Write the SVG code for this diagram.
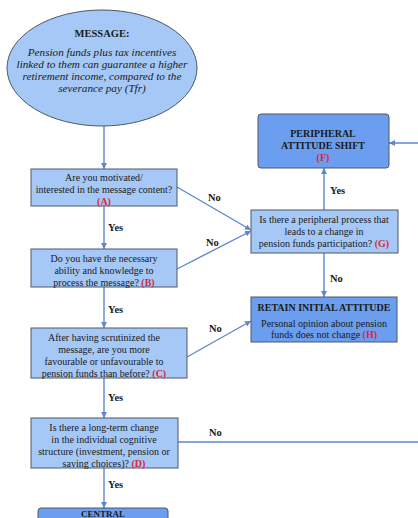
<svg xmlns="http://www.w3.org/2000/svg" width="418" height="518" viewBox="0 0 418 518">
<defs>
<marker id="ah" viewBox="0 0 10 10" refX="10" refY="5" markerWidth="6" markerHeight="6" markerUnits="userSpaceOnUse" orient="auto">
<path d="M0,0 L10,5 L0,10 z" fill="#5f87cf"/>
</marker>
<style>
text{font-family:"Liberation Serif","Times New Roman",serif;fill:#1a1a1a;text-anchor:middle}
.q{fill:#a6c8f6;stroke:#4d5866;stroke-width:1}
.r{fill:#6b9eee;stroke:#4d5866;stroke-width:1}
.t{font-size:10px}
.b{font-weight:bold}
.lbl{font-size:10.5px;font-weight:bold;text-anchor:start}
.red{fill:#d42a3c;font-weight:bold}
.i{font-style:italic;font-size:11.2px}
.c{fill:none;stroke:#5f87cf;stroke-width:1.4}
</style>
</defs>
<rect width="418" height="518" fill="#ffffff"/>
<g id="connectors">
<path class="c" d="M104,126 V169" marker-end="url(#ah)"/>
<path class="c" d="M104,206 V249" marker-end="url(#ah)"/>
<path class="c" d="M104,287 V328" marker-end="url(#ah)"/>
<path class="c" d="M104,378 V418" marker-end="url(#ah)"/>
<path class="c" d="M104,468 V508" marker-end="url(#ah)"/>
<path class="c" d="M177,187 L251,230" marker-end="url(#ah)"/>
<path class="c" d="M177,269 L251,231" marker-end="url(#ah)"/>
<path class="c" d="M187,357 L251,321" marker-end="url(#ah)"/>
<path class="c" d="M324,210 V168" marker-end="url(#ah)"/>
<path class="c" d="M324,253 V297" marker-end="url(#ah)"/>
<path class="c" d="M178,442 H419 V143 H389" marker-end="url(#ah)"/>
<text class="lbl" x="108" y="231">Yes</text>
<text class="lbl" x="108" y="313">Yes</text>
<text class="lbl" x="108" y="401">Yes</text>
<text class="lbl" x="108" y="488">Yes</text>
<text class="lbl" x="208" y="201">No</text>
<text class="lbl" x="206" y="246">No</text>
<text class="lbl" x="209" y="332">No</text>
<text class="lbl" x="209" y="436">No</text>
<text class="lbl" x="330" y="194">Yes</text>
<text class="lbl" x="330" y="282">No</text>
</g>
<g id="message">
<ellipse class="q" cx="102" cy="68" rx="95" ry="58"/>
<text class="b" x="102" y="37" font-size="10.5">MESSAGE:</text>
<text class="i" x="102" y="56">Pension funds plus tax incentives</text>
<text class="i" x="102" y="68">linked to them can guarantee a higher</text>
<text class="i" x="102" y="80">retirement income, compared to the</text>
<text class="i" x="102" y="92">severance pay (Tfr)</text>
</g>
<g id="A">
<rect class="q" x="31" y="169" width="146" height="37"/>
<text class="t" x="104" y="181">Are you motivated/</text>
<text class="t" x="104" y="193">interested in the message content?</text>
<text class="t red" x="104" y="205">(A)</text>
</g>
<g id="B">
<rect class="q" x="31" y="249" width="146" height="38"/>
<text class="t" x="104" y="262">Do you have the necessary</text>
<text class="t" x="104" y="274">ability and knowledge to</text>
<text class="t" x="104" y="286">process the message? <tspan class="red">(B)</tspan></text>
</g>
<g id="C">
<rect class="q" x="31" y="328" width="156" height="50"/>
<text class="t" x="104" y="341">After having scrutinized the</text>
<text class="t" x="104" y="353">message, are you more</text>
<text class="t" x="104" y="365">favourable or unfavourable to</text>
<text class="t" x="104" y="377">pension funds than before? <tspan class="red">(C)</tspan></text>
</g>
<g id="D">
<rect class="q" x="31" y="418" width="147" height="50"/>
<text class="t" x="104" y="431">Is there a long-term change</text>
<text class="t" x="104" y="443">in the individual cognitive</text>
<text class="t" x="104" y="455">structure (investment, pension or</text>
<text class="t" x="104" y="467">saving choices)? <tspan class="red">(D)</tspan></text>
</g>
<g id="G">
<rect class="q" x="251" y="210" width="147" height="43"/>
<text class="t" x="324" y="223">Is there a peripheral process that</text>
<text class="t" x="324" y="235">leads to a change in</text>
<text class="t" x="324" y="247">pension funds participation? <tspan class="red">(G)</tspan></text>
</g>
<g id="F">
<rect class="r" x="258" y="114" width="131" height="54" rx="3"/>
<text class="t b" x="323" y="137">PERIPHERAL</text>
<text class="t b" x="323" y="149">ATTITUDE SHIFT</text>
<text class="t red" x="323" y="161">(F)</text>
</g>
<g id="H">
<rect class="r" x="251" y="297" width="146" height="45"/>
<text class="t b" x="324" y="311">RETAIN INITIAL ATTITUDE</text>
<text class="t" x="324" y="327">Personal opinion about pension</text>
<text class="t" x="324" y="338">funds does not change <tspan class="red">(H)</tspan></text>
</g>
<g id="central">
<rect class="r" x="38" y="508" width="130" height="22" rx="3"/>
<text class="b" x="103" y="516.5" font-size="9">CENTRAL</text>
</g>
</svg>
